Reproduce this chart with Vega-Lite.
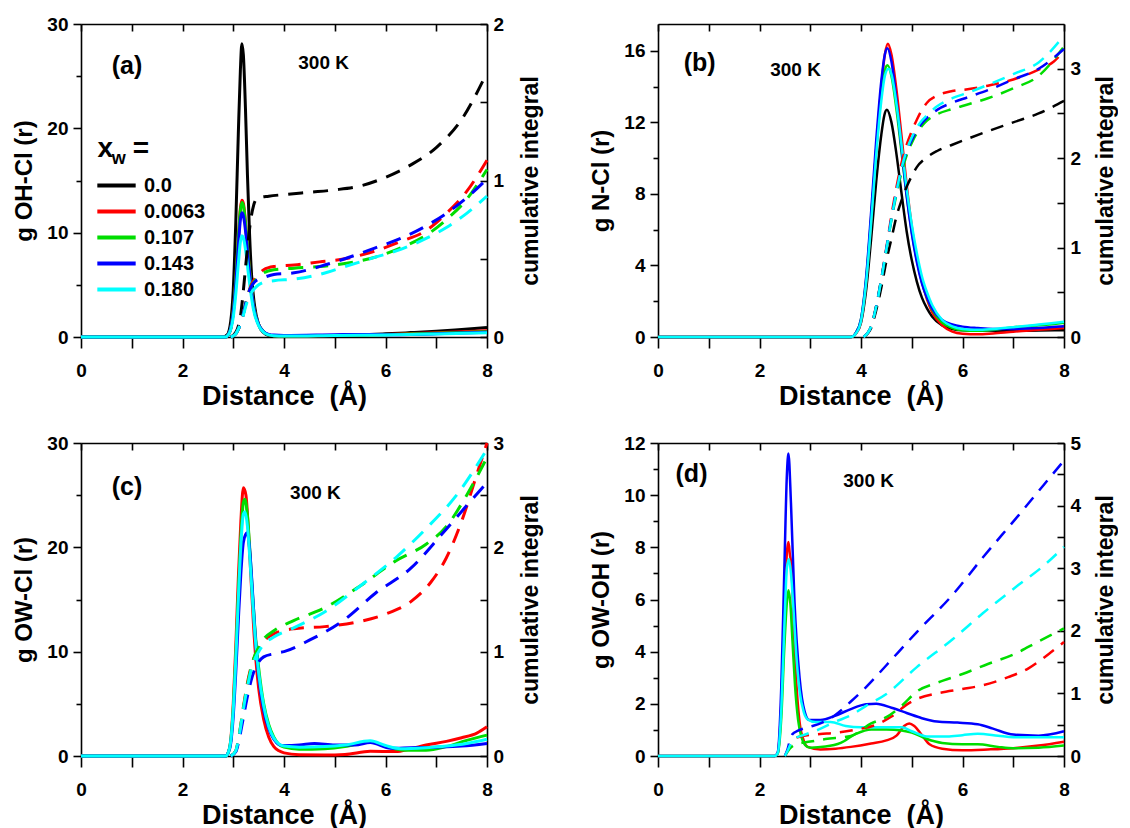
{
"$schema": "https://vega.github.io/schema/vega-lite/v6.json",
"padding": {"left": 12, "top": 15, "right": 0, "bottom": 0},
"background": "white",
"datasets": {
"aG": [
{"s":"0.0","r":0,"v":0},{"s":"0.0","r":2.8,"v":0},{"s":"0.0","r":2.88,"v":0.2},{"s":"0.0","r":2.95,"v":1.5},{"s":"0.0","r":3.0,"v":4.5},{"s":"0.0","r":3.05,"v":11},{"s":"0.0","r":3.1,"v":19.5},{"s":"0.0","r":3.14,"v":25.5},{"s":"0.0","r":3.17,"v":28.1},{"s":"0.0","r":3.2,"v":27},{"s":"0.0","r":3.24,"v":22},{"s":"0.0","r":3.28,"v":15.5},{"s":"0.0","r":3.32,"v":10},{"s":"0.0","r":3.36,"v":6},{"s":"0.0","r":3.42,"v":3},{"s":"0.0","r":3.5,"v":1.2},{"s":"0.0","r":3.6,"v":0.4},{"s":"0.0","r":3.7,"v":0.15},{"s":"0.0","r":3.8,"v":0.1},{"s":"0.0","r":4.0,"v":0.1},{"s":"0.0","r":4.5,"v":0.12},{"s":"0.0","r":5.0,"v":0.15},{"s":"0.0","r":5.5,"v":0.2},{"s":"0.0","r":6.0,"v":0.3},{"s":"0.0","r":6.5,"v":0.42},{"s":"0.0","r":7.0,"v":0.55},{"s":"0.0","r":7.5,"v":0.72},{"s":"0.0","r":8.0,"v":0.9},
{"s":"0.0063","r":0,"v":0},{"s":"0.0063","r":2.85,"v":0},{"s":"0.0063","r":2.9,"v":0.2},{"s":"0.0063","r":2.95,"v":0.8},{"s":"0.0063","r":3.0,"v":2.5},{"s":"0.0063","r":3.05,"v":5.5},{"s":"0.0063","r":3.1,"v":9.5},{"s":"0.0063","r":3.14,"v":12.3},{"s":"0.0063","r":3.17,"v":13.1},{"s":"0.0063","r":3.2,"v":12.8},{"s":"0.0063","r":3.25,"v":10.5},{"s":"0.0063","r":3.3,"v":7.5},{"s":"0.0063","r":3.35,"v":5},{"s":"0.0063","r":3.4,"v":3},{"s":"0.0063","r":3.5,"v":1.2},{"s":"0.0063","r":3.6,"v":0.5},{"s":"0.0063","r":3.7,"v":0.2},{"s":"0.0063","r":3.8,"v":0.12},{"s":"0.0063","r":4.0,"v":0.1},{"s":"0.0063","r":5.0,"v":0.15},{"s":"0.0063","r":6.0,"v":0.25},{"s":"0.0063","r":7.0,"v":0.4},{"s":"0.0063","r":8.0,"v":0.6},
{"s":"0.107","r":0,"v":0},{"s":"0.107","r":2.85,"v":0},{"s":"0.107","r":2.9,"v":0.2},{"s":"0.107","r":2.95,"v":0.8},{"s":"0.107","r":3.0,"v":2.4},{"s":"0.107","r":3.05,"v":5.4},{"s":"0.107","r":3.1,"v":9.4},{"s":"0.107","r":3.14,"v":12.1},{"s":"0.107","r":3.17,"v":12.9},{"s":"0.107","r":3.2,"v":12.6},{"s":"0.107","r":3.25,"v":10.4},{"s":"0.107","r":3.3,"v":7.5},{"s":"0.107","r":3.35,"v":5},{"s":"0.107","r":3.4,"v":3},{"s":"0.107","r":3.5,"v":1.2},{"s":"0.107","r":3.6,"v":0.5},{"s":"0.107","r":3.7,"v":0.2},{"s":"0.107","r":3.8,"v":0.12},{"s":"0.107","r":4.0,"v":0.1},{"s":"0.107","r":5.0,"v":0.15},{"s":"0.107","r":6.0,"v":0.22},{"s":"0.107","r":7.0,"v":0.35},{"s":"0.107","r":8.0,"v":0.5},
{"s":"0.143","r":0,"v":0},{"s":"0.143","r":2.85,"v":0},{"s":"0.143","r":2.9,"v":0.2},{"s":"0.143","r":2.95,"v":0.8},{"s":"0.143","r":3.0,"v":2.3},{"s":"0.143","r":3.05,"v":5.0},{"s":"0.143","r":3.1,"v":8.7},{"s":"0.143","r":3.14,"v":11.2},{"s":"0.143","r":3.17,"v":11.9},{"s":"0.143","r":3.2,"v":11.6},{"s":"0.143","r":3.25,"v":9.8},{"s":"0.143","r":3.3,"v":7.1},{"s":"0.143","r":3.35,"v":4.8},{"s":"0.143","r":3.4,"v":2.9},{"s":"0.143","r":3.5,"v":1.2},{"s":"0.143","r":3.6,"v":0.5},{"s":"0.143","r":3.7,"v":0.25},{"s":"0.143","r":3.8,"v":0.18},{"s":"0.143","r":4.0,"v":0.15},{"s":"0.143","r":5.0,"v":0.22},{"s":"0.143","r":5.5,"v":0.25},{"s":"0.143","r":6.0,"v":0.22},{"s":"0.143","r":7.0,"v":0.3},{"s":"0.143","r":8.0,"v":0.45},
{"s":"0.180","r":0,"v":0},{"s":"0.180","r":2.85,"v":0},{"s":"0.180","r":2.9,"v":0.2},{"s":"0.180","r":2.95,"v":0.7},{"s":"0.180","r":3.0,"v":1.9},{"s":"0.180","r":3.05,"v":4.1},{"s":"0.180","r":3.1,"v":7.0},{"s":"0.180","r":3.14,"v":9.1},{"s":"0.180","r":3.17,"v":9.7},{"s":"0.180","r":3.2,"v":9.5},{"s":"0.180","r":3.25,"v":8.1},{"s":"0.180","r":3.3,"v":6.0},{"s":"0.180","r":3.35,"v":4.1},{"s":"0.180","r":3.4,"v":2.6},{"s":"0.180","r":3.5,"v":1.1},{"s":"0.180","r":3.6,"v":0.45},{"s":"0.180","r":3.7,"v":0.2},{"s":"0.180","r":3.8,"v":0.12},{"s":"0.180","r":4.0,"v":0.1},{"s":"0.180","r":5.0,"v":0.15},{"s":"0.180","r":6.0,"v":0.2},{"s":"0.180","r":7.0,"v":0.28},{"s":"0.180","r":8.0,"v":0.4}
],
"aN": [
{"s":"0.0","r":2.95,"v":0},{"s":"0.0","r":3.05,"v":0.03},{"s":"0.0","r":3.1,"v":0.07},{"s":"0.0","r":3.15,"v":0.15},{"s":"0.0","r":3.2,"v":0.3},{"s":"0.0","r":3.25,"v":0.47},{"s":"0.0","r":3.3,"v":0.63},{"s":"0.0","r":3.35,"v":0.76},{"s":"0.0","r":3.4,"v":0.84},{"s":"0.0","r":3.45,"v":0.88},{"s":"0.0","r":3.5,"v":0.89},{"s":"0.0","r":3.7,"v":0.9},{"s":"0.0","r":4.0,"v":0.91},{"s":"0.0","r":4.5,"v":0.925},{"s":"0.0","r":5.0,"v":0.94},{"s":"0.0","r":5.5,"v":0.965},{"s":"0.0","r":6.0,"v":1.02},{"s":"0.0","r":6.5,"v":1.1},{"s":"0.0","r":7.0,"v":1.21},{"s":"0.0","r":7.5,"v":1.39},{"s":"0.0","r":8.0,"v":1.69},
{"s":"0.0063","r":2.95,"v":0},{"s":"0.0063","r":3.05,"v":0.02},{"s":"0.0063","r":3.1,"v":0.05},{"s":"0.0063","r":3.15,"v":0.09},{"s":"0.0063","r":3.2,"v":0.15},{"s":"0.0063","r":3.25,"v":0.22},{"s":"0.0063","r":3.3,"v":0.28},{"s":"0.0063","r":3.35,"v":0.33},{"s":"0.0063","r":3.4,"v":0.36},{"s":"0.0063","r":3.5,"v":0.4},{"s":"0.0063","r":3.6,"v":0.43},{"s":"0.0063","r":3.8,"v":0.45},{"s":"0.0063","r":4.2,"v":0.46},{"s":"0.0063","r":4.7,"v":0.48},{"s":"0.0063","r":5.2,"v":0.5},{"s":"0.0063","r":5.8,"v":0.55},{"s":"0.0063","r":6.3,"v":0.61},{"s":"0.0063","r":6.8,"v":0.68},{"s":"0.0063","r":7.2,"v":0.79},{"s":"0.0063","r":7.6,"v":0.93},{"s":"0.0063","r":8.0,"v":1.13},
{"s":"0.107","r":2.95,"v":0},{"s":"0.107","r":3.05,"v":0.02},{"s":"0.107","r":3.1,"v":0.05},{"s":"0.107","r":3.15,"v":0.09},{"s":"0.107","r":3.2,"v":0.15},{"s":"0.107","r":3.25,"v":0.22},{"s":"0.107","r":3.3,"v":0.28},{"s":"0.107","r":3.35,"v":0.32},{"s":"0.107","r":3.45,"v":0.37},{"s":"0.107","r":3.6,"v":0.41},{"s":"0.107","r":3.8,"v":0.43},{"s":"0.107","r":4.2,"v":0.44},{"s":"0.107","r":4.7,"v":0.45},{"s":"0.107","r":5.2,"v":0.47},{"s":"0.107","r":5.8,"v":0.51},{"s":"0.107","r":6.3,"v":0.57},{"s":"0.107","r":6.8,"v":0.65},{"s":"0.107","r":7.2,"v":0.75},{"s":"0.107","r":7.6,"v":0.88},{"s":"0.107","r":8.0,"v":1.07},
{"s":"0.143","r":2.95,"v":0},{"s":"0.143","r":3.05,"v":0.02},{"s":"0.143","r":3.1,"v":0.05},{"s":"0.143","r":3.15,"v":0.09},{"s":"0.143","r":3.2,"v":0.15},{"s":"0.143","r":3.25,"v":0.22},{"s":"0.143","r":3.3,"v":0.28},{"s":"0.143","r":3.35,"v":0.32},{"s":"0.143","r":3.45,"v":0.36},{"s":"0.143","r":3.6,"v":0.38},{"s":"0.143","r":3.8,"v":0.4},{"s":"0.143","r":4.2,"v":0.41},{"s":"0.143","r":4.7,"v":0.45},{"s":"0.143","r":5.2,"v":0.5},{"s":"0.143","r":5.8,"v":0.57},{"s":"0.143","r":6.3,"v":0.63},{"s":"0.143","r":6.8,"v":0.71},{"s":"0.143","r":7.2,"v":0.79},{"s":"0.143","r":7.6,"v":0.89},{"s":"0.143","r":8.0,"v":1.01},
{"s":"0.180","r":2.95,"v":0},{"s":"0.180","r":3.05,"v":0.02},{"s":"0.180","r":3.1,"v":0.05},{"s":"0.180","r":3.15,"v":0.09},{"s":"0.180","r":3.2,"v":0.14},{"s":"0.180","r":3.25,"v":0.2},{"s":"0.180","r":3.3,"v":0.25},{"s":"0.180","r":3.35,"v":0.28},{"s":"0.180","r":3.45,"v":0.32},{"s":"0.180","r":3.6,"v":0.35},{"s":"0.180","r":3.8,"v":0.36},{"s":"0.180","r":4.2,"v":0.37},{"s":"0.180","r":4.7,"v":0.4},{"s":"0.180","r":5.2,"v":0.45},{"s":"0.180","r":5.8,"v":0.51},{"s":"0.180","r":6.3,"v":0.56},{"s":"0.180","r":6.8,"v":0.63},{"s":"0.180","r":7.2,"v":0.7},{"s":"0.180","r":7.6,"v":0.79},{"s":"0.180","r":8.0,"v":0.9}
],
"bG": [
{"s":"0.0","r":0,"v":0},{"s":"0.0","r":3.8,"v":0},{"s":"0.0","r":3.9,"v":0.2},{"s":"0.0","r":4.0,"v":0.8},{"s":"0.0","r":4.1,"v":2.6},{"s":"0.0","r":4.2,"v":5.5},{"s":"0.0","r":4.3,"v":8.7},{"s":"0.0","r":4.4,"v":11.3},{"s":"0.0","r":4.46,"v":12.4},{"s":"0.0","r":4.51,"v":12.7},{"s":"0.0","r":4.6,"v":12.0},{"s":"0.0","r":4.7,"v":10.2},{"s":"0.0","r":4.8,"v":8.0},{"s":"0.0","r":4.9,"v":5.9},{"s":"0.0","r":5.0,"v":4.3},{"s":"0.0","r":5.1,"v":3.1},{"s":"0.0","r":5.2,"v":2.2},{"s":"0.0","r":5.3,"v":1.6},{"s":"0.0","r":5.4,"v":1.15},{"s":"0.0","r":5.6,"v":0.65},{"s":"0.0","r":5.8,"v":0.45},{"s":"0.0","r":6.0,"v":0.38},{"s":"0.0","r":6.5,"v":0.36},{"s":"0.0","r":7.0,"v":0.35},{"s":"0.0","r":7.5,"v":0.36},{"s":"0.0","r":8.0,"v":0.38},
{"s":"0.0063","r":0,"v":0},{"s":"0.0063","r":3.8,"v":0},{"s":"0.0063","r":3.9,"v":0.2},{"s":"0.0063","r":4.0,"v":0.9},{"s":"0.0063","r":4.1,"v":3},{"s":"0.0063","r":4.2,"v":6.5},{"s":"0.0063","r":4.3,"v":10.5},{"s":"0.0063","r":4.4,"v":14},{"s":"0.0063","r":4.47,"v":15.8},{"s":"0.0063","r":4.53,"v":16.4},{"s":"0.0063","r":4.6,"v":15.8},{"s":"0.0063","r":4.7,"v":13.8},{"s":"0.0063","r":4.8,"v":11.2},{"s":"0.0063","r":4.9,"v":8.5},{"s":"0.0063","r":5.0,"v":6.2},{"s":"0.0063","r":5.1,"v":4.4},{"s":"0.0063","r":5.2,"v":3.1},{"s":"0.0063","r":5.3,"v":2.1},{"s":"0.0063","r":5.4,"v":1.4},{"s":"0.0063","r":5.6,"v":0.65},{"s":"0.0063","r":5.8,"v":0.3},{"s":"0.0063","r":6.0,"v":0.18},{"s":"0.0063","r":6.3,"v":0.15},{"s":"0.0063","r":6.6,"v":0.2},{"s":"0.0063","r":7.0,"v":0.3},{"s":"0.0063","r":7.5,"v":0.4},{"s":"0.0063","r":8.0,"v":0.5},
{"s":"0.107","r":0,"v":0},{"s":"0.107","r":3.8,"v":0},{"s":"0.107","r":3.9,"v":0.25},{"s":"0.107","r":4.0,"v":1.0},{"s":"0.107","r":4.1,"v":3.2},{"s":"0.107","r":4.2,"v":6.7},{"s":"0.107","r":4.3,"v":10.5},{"s":"0.107","r":4.4,"v":13.5},{"s":"0.107","r":4.47,"v":14.9},{"s":"0.107","r":4.52,"v":15.2},{"s":"0.107","r":4.6,"v":14.6},{"s":"0.107","r":4.7,"v":12.7},{"s":"0.107","r":4.8,"v":10.3},{"s":"0.107","r":4.9,"v":7.9},{"s":"0.107","r":5.0,"v":5.9},{"s":"0.107","r":5.1,"v":4.3},{"s":"0.107","r":5.2,"v":3.1},{"s":"0.107","r":5.3,"v":2.2},{"s":"0.107","r":5.4,"v":1.55},{"s":"0.107","r":5.6,"v":0.8},{"s":"0.107","r":5.8,"v":0.5},{"s":"0.107","r":6.0,"v":0.38},{"s":"0.107","r":6.3,"v":0.35},{"s":"0.107","r":6.6,"v":0.4},{"s":"0.107","r":7.0,"v":0.55},{"s":"0.107","r":7.5,"v":0.65},{"s":"0.107","r":8.0,"v":0.8},
{"s":"0.143","r":0,"v":0},{"s":"0.143","r":3.8,"v":0},{"s":"0.143","r":3.9,"v":0.25},{"s":"0.143","r":4.0,"v":1.0},{"s":"0.143","r":4.1,"v":3.3},{"s":"0.143","r":4.2,"v":7},{"s":"0.143","r":4.3,"v":11},{"s":"0.143","r":4.4,"v":14.3},{"s":"0.143","r":4.47,"v":15.8},{"s":"0.143","r":4.52,"v":16.15},{"s":"0.143","r":4.6,"v":15.4},{"s":"0.143","r":4.7,"v":13.2},{"s":"0.143","r":4.8,"v":10.5},{"s":"0.143","r":4.9,"v":7.9},{"s":"0.143","r":5.0,"v":5.8},{"s":"0.143","r":5.1,"v":4.2},{"s":"0.143","r":5.2,"v":3.0},{"s":"0.143","r":5.3,"v":2.2},{"s":"0.143","r":5.4,"v":1.6},{"s":"0.143","r":5.6,"v":0.95},{"s":"0.143","r":5.8,"v":0.7},{"s":"0.143","r":6.0,"v":0.58},{"s":"0.143","r":6.3,"v":0.5},{"s":"0.143","r":6.6,"v":0.45},{"s":"0.143","r":7.0,"v":0.45},{"s":"0.143","r":7.5,"v":0.5},{"s":"0.143","r":8.0,"v":0.6},
{"s":"0.180","r":0,"v":0},{"s":"0.180","r":3.8,"v":0},{"s":"0.180","r":3.9,"v":0.2},{"s":"0.180","r":4.0,"v":0.9},{"s":"0.180","r":4.1,"v":3.0},{"s":"0.180","r":4.2,"v":6.4},{"s":"0.180","r":4.3,"v":10.2},{"s":"0.180","r":4.4,"v":13.2},{"s":"0.180","r":4.47,"v":14.6},{"s":"0.180","r":4.54,"v":15.0},{"s":"0.180","r":4.6,"v":14.7},{"s":"0.180","r":4.7,"v":13.0},{"s":"0.180","r":4.8,"v":10.7},{"s":"0.180","r":4.9,"v":8.3},{"s":"0.180","r":5.0,"v":6.3},{"s":"0.180","r":5.1,"v":4.7},{"s":"0.180","r":5.2,"v":3.4},{"s":"0.180","r":5.3,"v":2.5},{"s":"0.180","r":5.4,"v":1.8},{"s":"0.180","r":5.6,"v":0.95},{"s":"0.180","r":5.8,"v":0.6},{"s":"0.180","r":6.0,"v":0.45},{"s":"0.180","r":6.3,"v":0.4},{"s":"0.180","r":6.6,"v":0.45},{"s":"0.180","r":7.0,"v":0.55},{"s":"0.180","r":7.5,"v":0.7},{"s":"0.180","r":8.0,"v":0.85}
],
"bN": [
{"s":"0.0","r":4.05,"v":0},{"s":"0.0","r":4.2,"v":0.1},{"s":"0.0","r":4.3,"v":0.3},{"s":"0.0","r":4.4,"v":0.55},{"s":"0.0","r":4.5,"v":0.85},{"s":"0.0","r":4.6,"v":1.1},{"s":"0.0","r":4.7,"v":1.35},{"s":"0.0","r":4.8,"v":1.53},{"s":"0.0","r":4.9,"v":1.68},{"s":"0.0","r":5.0,"v":1.8},{"s":"0.0","r":5.1,"v":1.9},{"s":"0.0","r":5.3,"v":2.01},{"s":"0.0","r":5.5,"v":2.08},{"s":"0.0","r":5.8,"v":2.15},{"s":"0.0","r":6.4,"v":2.28},{"s":"0.0","r":7.0,"v":2.4},{"s":"0.0","r":7.5,"v":2.5},{"s":"0.0","r":8.0,"v":2.64},
{"s":"0.0063","r":4.05,"v":0},{"s":"0.0063","r":4.2,"v":0.12},{"s":"0.0063","r":4.3,"v":0.35},{"s":"0.0063","r":4.4,"v":0.65},{"s":"0.0063","r":4.5,"v":1.0},{"s":"0.0063","r":4.6,"v":1.36},{"s":"0.0063","r":4.7,"v":1.68},{"s":"0.0063","r":4.8,"v":1.95},{"s":"0.0063","r":4.9,"v":2.15},{"s":"0.0063","r":5.0,"v":2.3},{"s":"0.0063","r":5.1,"v":2.43},{"s":"0.0063","r":5.2,"v":2.54},{"s":"0.0063","r":5.3,"v":2.62},{"s":"0.0063","r":5.5,"v":2.7},{"s":"0.0063","r":5.8,"v":2.75},{"s":"0.0063","r":6.1,"v":2.77},{"s":"0.0063","r":6.5,"v":2.81},{"s":"0.0063","r":7.0,"v":2.88},{"s":"0.0063","r":7.5,"v":2.99},{"s":"0.0063","r":7.8,"v":3.08},{"s":"0.0063","r":8.0,"v":3.2},
{"s":"0.107","r":4.05,"v":0},{"s":"0.107","r":4.2,"v":0.12},{"s":"0.107","r":4.3,"v":0.35},{"s":"0.107","r":4.4,"v":0.65},{"s":"0.107","r":4.5,"v":0.98},{"s":"0.107","r":4.6,"v":1.31},{"s":"0.107","r":4.7,"v":1.6},{"s":"0.107","r":4.8,"v":1.84},{"s":"0.107","r":4.9,"v":2.03},{"s":"0.107","r":5.0,"v":2.17},{"s":"0.107","r":5.1,"v":2.28},{"s":"0.107","r":5.2,"v":2.36},{"s":"0.107","r":5.3,"v":2.42},{"s":"0.107","r":5.5,"v":2.49},{"s":"0.107","r":5.8,"v":2.55},{"s":"0.107","r":6.1,"v":2.6},{"s":"0.107","r":6.5,"v":2.67},{"s":"0.107","r":7.0,"v":2.78},{"s":"0.107","r":7.5,"v":2.92},{"s":"0.107","r":8.0,"v":3.25},
{"s":"0.143","r":4.05,"v":0},{"s":"0.143","r":4.2,"v":0.12},{"s":"0.143","r":4.3,"v":0.35},{"s":"0.143","r":4.4,"v":0.65},{"s":"0.143","r":4.5,"v":0.99},{"s":"0.143","r":4.6,"v":1.33},{"s":"0.143","r":4.7,"v":1.63},{"s":"0.143","r":4.8,"v":1.88},{"s":"0.143","r":4.9,"v":2.07},{"s":"0.143","r":5.0,"v":2.2},{"s":"0.143","r":5.1,"v":2.31},{"s":"0.143","r":5.2,"v":2.39},{"s":"0.143","r":5.3,"v":2.45},{"s":"0.143","r":5.5,"v":2.54},{"s":"0.143","r":5.8,"v":2.62},{"s":"0.143","r":6.1,"v":2.68},{"s":"0.143","r":6.5,"v":2.76},{"s":"0.143","r":7.0,"v":2.88},{"s":"0.143","r":7.5,"v":3.0},{"s":"0.143","r":8.0,"v":3.22},
{"s":"0.180","r":4.05,"v":0},{"s":"0.180","r":4.2,"v":0.12},{"s":"0.180","r":4.3,"v":0.34},{"s":"0.180","r":4.4,"v":0.64},{"s":"0.180","r":4.5,"v":0.98},{"s":"0.180","r":4.6,"v":1.32},{"s":"0.180","r":4.7,"v":1.63},{"s":"0.180","r":4.8,"v":1.89},{"s":"0.180","r":4.9,"v":2.09},{"s":"0.180","r":5.0,"v":2.23},{"s":"0.180","r":5.1,"v":2.34},{"s":"0.180","r":5.2,"v":2.42},{"s":"0.180","r":5.3,"v":2.48},{"s":"0.180","r":5.5,"v":2.58},{"s":"0.180","r":5.8,"v":2.67},{"s":"0.180","r":6.1,"v":2.73},{"s":"0.180","r":6.5,"v":2.82},{"s":"0.180","r":7.0,"v":2.94},{"s":"0.180","r":7.5,"v":3.07},{"s":"0.180","r":8.0,"v":3.37}
],
"cG": [
{"s":"0.0063","r":0,"v":0},{"s":"0.0063","r":2.85,"v":0},{"s":"0.0063","r":2.9,"v":0.3},{"s":"0.0063","r":2.95,"v":1.5},{"s":"0.0063","r":3.0,"v":5},{"s":"0.0063","r":3.05,"v":10.5},{"s":"0.0063","r":3.1,"v":17},{"s":"0.0063","r":3.15,"v":22.5},{"s":"0.0063","r":3.2,"v":25.7},{"s":"0.0063","r":3.25,"v":25},{"s":"0.0063","r":3.3,"v":21.5},{"s":"0.0063","r":3.35,"v":17},{"s":"0.0063","r":3.4,"v":12.5},{"s":"0.0063","r":3.45,"v":9},{"s":"0.0063","r":3.5,"v":6.5},{"s":"0.0063","r":3.6,"v":3.5},{"s":"0.0063","r":3.7,"v":1.8},{"s":"0.0063","r":3.8,"v":0.9},{"s":"0.0063","r":3.9,"v":0.5},{"s":"0.0063","r":4.0,"v":0.3},{"s":"0.0063","r":4.3,"v":0.12},{"s":"0.0063","r":4.8,"v":0.1},{"s":"0.0063","r":5.2,"v":0.15},{"s":"0.0063","r":5.7,"v":0.45},{"s":"0.0063","r":6.2,"v":0.42},{"s":"0.0063","r":6.5,"v":0.7},{"s":"0.0063","r":6.8,"v":1.05},{"s":"0.0063","r":7.2,"v":1.4},{"s":"0.0063","r":7.5,"v":1.75},{"s":"0.0063","r":7.8,"v":2.2},{"s":"0.0063","r":8.0,"v":2.8},
{"s":"0.107","r":0,"v":0},{"s":"0.107","r":2.85,"v":0},{"s":"0.107","r":2.9,"v":0.3},{"s":"0.107","r":2.95,"v":1.4},{"s":"0.107","r":3.0,"v":4.5},{"s":"0.107","r":3.05,"v":9.5},{"s":"0.107","r":3.1,"v":15.5},{"s":"0.107","r":3.15,"v":21},{"s":"0.107","r":3.2,"v":24.3},{"s":"0.107","r":3.23,"v":24.6},{"s":"0.107","r":3.28,"v":23},{"s":"0.107","r":3.33,"v":19.5},{"s":"0.107","r":3.38,"v":15.5},{"s":"0.107","r":3.43,"v":12},{"s":"0.107","r":3.5,"v":8.5},{"s":"0.107","r":3.6,"v":5},{"s":"0.107","r":3.7,"v":3},{"s":"0.107","r":3.8,"v":1.8},{"s":"0.107","r":3.9,"v":1.1},{"s":"0.107","r":4.0,"v":0.85},{"s":"0.107","r":4.3,"v":0.65},{"s":"0.107","r":4.8,"v":0.7},{"s":"0.107","r":5.2,"v":0.9},{"s":"0.107","r":5.7,"v":1.4},{"s":"0.107","r":6.0,"v":0.9},{"s":"0.107","r":6.4,"v":0.55},{"s":"0.107","r":6.8,"v":0.55},{"s":"0.107","r":7.2,"v":0.9},{"s":"0.107","r":7.6,"v":1.5},{"s":"0.107","r":8.0,"v":2.0},
{"s":"0.143","r":0,"v":0},{"s":"0.143","r":2.85,"v":0},{"s":"0.143","r":2.9,"v":0.3},{"s":"0.143","r":2.95,"v":1.2},{"s":"0.143","r":3.0,"v":3.8},{"s":"0.143","r":3.05,"v":8},{"s":"0.143","r":3.1,"v":13},{"s":"0.143","r":3.15,"v":17.5},{"s":"0.143","r":3.2,"v":20.5},{"s":"0.143","r":3.27,"v":21.4},{"s":"0.143","r":3.32,"v":20},{"s":"0.143","r":3.37,"v":16.5},{"s":"0.143","r":3.42,"v":12.5},{"s":"0.143","r":3.47,"v":9.2},{"s":"0.143","r":3.53,"v":6.5},{"s":"0.143","r":3.6,"v":4.4},{"s":"0.143","r":3.7,"v":2.6},{"s":"0.143","r":3.8,"v":1.6},{"s":"0.143","r":3.9,"v":1.1},{"s":"0.143","r":4.0,"v":1.0},{"s":"0.143","r":4.3,"v":1.05},{"s":"0.143","r":4.6,"v":1.2},{"s":"0.143","r":5.0,"v":1.05},{"s":"0.143","r":5.4,"v":1.05},{"s":"0.143","r":5.7,"v":1.3},{"s":"0.143","r":6.1,"v":0.75},{"s":"0.143","r":6.5,"v":0.8},{"s":"0.143","r":7.0,"v":0.85},{"s":"0.143","r":7.5,"v":0.95},{"s":"0.143","r":8.0,"v":1.2},
{"s":"0.180","r":0,"v":0},{"s":"0.180","r":2.85,"v":0},{"s":"0.180","r":2.9,"v":0.3},{"s":"0.180","r":2.95,"v":1.4},{"s":"0.180","r":3.0,"v":4.4},{"s":"0.180","r":3.05,"v":9.2},{"s":"0.180","r":3.1,"v":15},{"s":"0.180","r":3.15,"v":20.2},{"s":"0.180","r":3.2,"v":23.2},{"s":"0.180","r":3.23,"v":23.4},{"s":"0.180","r":3.28,"v":22},{"s":"0.180","r":3.33,"v":18.7},{"s":"0.180","r":3.38,"v":15},{"s":"0.180","r":3.43,"v":11.5},{"s":"0.180","r":3.5,"v":8},{"s":"0.180","r":3.6,"v":4.8},{"s":"0.180","r":3.7,"v":2.8},{"s":"0.180","r":3.8,"v":1.7},{"s":"0.180","r":3.9,"v":1.15},{"s":"0.180","r":4.0,"v":0.95},{"s":"0.180","r":4.3,"v":0.85},{"s":"0.180","r":4.8,"v":0.9},{"s":"0.180","r":5.2,"v":1.05},{"s":"0.180","r":5.7,"v":1.45},{"s":"0.180","r":6.0,"v":1.0},{"s":"0.180","r":6.3,"v":0.7},{"s":"0.180","r":6.8,"v":0.8},{"s":"0.180","r":7.2,"v":0.95},{"s":"0.180","r":7.6,"v":1.2},{"s":"0.180","r":8.0,"v":1.6}
],
"cN": [
{"s":"0.0063","r":2.95,"v":0},{"s":"0.0063","r":3.05,"v":0.05},{"s":"0.0063","r":3.1,"v":0.15},{"s":"0.0063","r":3.15,"v":0.3},{"s":"0.0063","r":3.2,"v":0.47},{"s":"0.0063","r":3.25,"v":0.62},{"s":"0.0063","r":3.3,"v":0.75},{"s":"0.0063","r":3.35,"v":0.85},{"s":"0.0063","r":3.4,"v":0.93},{"s":"0.0063","r":3.5,"v":1.03},{"s":"0.0063","r":3.6,"v":1.1},{"s":"0.0063","r":3.8,"v":1.17},{"s":"0.0063","r":4.2,"v":1.22},{"s":"0.0063","r":4.8,"v":1.24},{"s":"0.0063","r":5.5,"v":1.29},{"s":"0.0063","r":6.0,"v":1.36},{"s":"0.0063","r":6.5,"v":1.48},{"s":"0.0063","r":6.9,"v":1.67},{"s":"0.0063","r":7.2,"v":1.9},{"s":"0.0063","r":7.5,"v":2.25},{"s":"0.0063","r":7.8,"v":2.7},{"s":"0.0063","r":8.0,"v":3.0},
{"s":"0.107","r":2.95,"v":0},{"s":"0.107","r":3.05,"v":0.05},{"s":"0.107","r":3.1,"v":0.15},{"s":"0.107","r":3.15,"v":0.3},{"s":"0.107","r":3.2,"v":0.46},{"s":"0.107","r":3.25,"v":0.6},{"s":"0.107","r":3.3,"v":0.73},{"s":"0.107","r":3.35,"v":0.84},{"s":"0.107","r":3.4,"v":0.93},{"s":"0.107","r":3.5,"v":1.04},{"s":"0.107","r":3.6,"v":1.12},{"s":"0.107","r":3.8,"v":1.2},{"s":"0.107","r":4.2,"v":1.3},{"s":"0.107","r":4.8,"v":1.42},{"s":"0.107","r":5.5,"v":1.63},{"s":"0.107","r":6.2,"v":1.87},{"s":"0.107","r":6.8,"v":2.03},{"s":"0.107","r":7.2,"v":2.2},{"s":"0.107","r":7.6,"v":2.5},{"s":"0.107","r":8.0,"v":2.86},
{"s":"0.143","r":2.95,"v":0},{"s":"0.143","r":3.05,"v":0.04},{"s":"0.143","r":3.1,"v":0.12},{"s":"0.143","r":3.15,"v":0.24},{"s":"0.143","r":3.2,"v":0.37},{"s":"0.143","r":3.25,"v":0.5},{"s":"0.143","r":3.3,"v":0.62},{"s":"0.143","r":3.35,"v":0.72},{"s":"0.143","r":3.4,"v":0.8},{"s":"0.143","r":3.5,"v":0.9},{"s":"0.143","r":3.6,"v":0.95},{"s":"0.143","r":3.8,"v":0.98},{"s":"0.143","r":4.0,"v":1.0},{"s":"0.143","r":4.5,"v":1.11},{"s":"0.143","r":5.2,"v":1.31},{"s":"0.143","r":5.8,"v":1.56},{"s":"0.143","r":6.5,"v":1.8},{"s":"0.143","r":7.1,"v":2.12},{"s":"0.143","r":7.6,"v":2.4},{"s":"0.143","r":8.0,"v":2.62},
{"s":"0.180","r":2.95,"v":0},{"s":"0.180","r":3.05,"v":0.05},{"s":"0.180","r":3.1,"v":0.15},{"s":"0.180","r":3.15,"v":0.29},{"s":"0.180","r":3.2,"v":0.45},{"s":"0.180","r":3.25,"v":0.59},{"s":"0.180","r":3.3,"v":0.71},{"s":"0.180","r":3.35,"v":0.82},{"s":"0.180","r":3.4,"v":0.9},{"s":"0.180","r":3.5,"v":1.0},{"s":"0.180","r":3.6,"v":1.07},{"s":"0.180","r":3.8,"v":1.14},{"s":"0.180","r":4.2,"v":1.23},{"s":"0.180","r":4.8,"v":1.38},{"s":"0.180","r":5.5,"v":1.63},{"s":"0.180","r":6.2,"v":1.9},{"s":"0.180","r":6.8,"v":2.18},{"s":"0.180","r":7.4,"v":2.5},{"s":"0.180","r":8.0,"v":2.94}
],
"dG": [
{"s":"0.0063","r":0,"v":0},{"s":"0.0063","r":2.3,"v":0},{"s":"0.0063","r":2.36,"v":0.12},{"s":"0.0063","r":2.43,"v":2.0},{"s":"0.0063","r":2.49,"v":5.4},{"s":"0.0063","r":2.54,"v":7.8},{"s":"0.0063","r":2.57,"v":8.2},{"s":"0.0063","r":2.6,"v":7.7},{"s":"0.0063","r":2.63,"v":7.3},{"s":"0.0063","r":2.67,"v":5.2},{"s":"0.0063","r":2.72,"v":3.0},{"s":"0.0063","r":2.79,"v":1.3},{"s":"0.0063","r":2.87,"v":0.6},{"s":"0.0063","r":2.95,"v":0.35},{"s":"0.0063","r":3.2,"v":0.25},{"s":"0.0063","r":3.5,"v":0.28},{"s":"0.0063","r":3.8,"v":0.35},{"s":"0.0063","r":4.2,"v":0.48},{"s":"0.0063","r":4.5,"v":0.6},{"s":"0.0063","r":4.7,"v":0.78},{"s":"0.0063","r":4.85,"v":1.15},{"s":"0.0063","r":4.95,"v":1.25},{"s":"0.0063","r":5.05,"v":1.15},{"s":"0.0063","r":5.2,"v":0.8},{"s":"0.0063","r":5.35,"v":0.45},{"s":"0.0063","r":5.6,"v":0.28},{"s":"0.0063","r":6.0,"v":0.22},{"s":"0.0063","r":6.5,"v":0.25},{"s":"0.0063","r":7.0,"v":0.3},{"s":"0.0063","r":7.5,"v":0.4},{"s":"0.0063","r":8.0,"v":0.55},
{"s":"0.107","r":0,"v":0},{"s":"0.107","r":2.3,"v":0},{"s":"0.107","r":2.36,"v":0.1},{"s":"0.107","r":2.43,"v":1.5},{"s":"0.107","r":2.49,"v":4.2},{"s":"0.107","r":2.54,"v":5.9},{"s":"0.107","r":2.57,"v":6.35},{"s":"0.107","r":2.61,"v":5.8},{"s":"0.107","r":2.65,"v":4.4},{"s":"0.107","r":2.7,"v":2.7},{"s":"0.107","r":2.76,"v":1.4},{"s":"0.107","r":2.83,"v":0.7},{"s":"0.107","r":2.9,"v":0.42},{"s":"0.107","r":3.0,"v":0.32},{"s":"0.107","r":3.3,"v":0.36},{"s":"0.107","r":3.6,"v":0.5},{"s":"0.107","r":3.9,"v":0.85},{"s":"0.107","r":4.2,"v":1.02},{"s":"0.107","r":4.5,"v":1.02},{"s":"0.107","r":4.8,"v":0.98},{"s":"0.107","r":5.0,"v":0.9},{"s":"0.107","r":5.3,"v":0.65},{"s":"0.107","r":5.6,"v":0.5},{"s":"0.107","r":6.0,"v":0.45},{"s":"0.107","r":6.3,"v":0.45},{"s":"0.107","r":6.7,"v":0.35},{"s":"0.107","r":7.0,"v":0.3},{"s":"0.107","r":7.5,"v":0.32},{"s":"0.107","r":8.0,"v":0.4},
{"s":"0.143","r":0,"v":0},{"s":"0.143","r":2.3,"v":0},{"s":"0.143","r":2.36,"v":0.15},{"s":"0.143","r":2.43,"v":2.7},{"s":"0.143","r":2.49,"v":7.2},{"s":"0.143","r":2.54,"v":10.8},{"s":"0.143","r":2.57,"v":11.6},{"s":"0.143","r":2.62,"v":9.7},{"s":"0.143","r":2.69,"v":5.9},{"s":"0.143","r":2.79,"v":3.0},{"s":"0.143","r":2.89,"v":1.7},{"s":"0.143","r":2.98,"v":1.38},{"s":"0.143","r":3.2,"v":1.38},{"s":"0.143","r":3.5,"v":1.55},{"s":"0.143","r":3.8,"v":1.8},{"s":"0.143","r":4.1,"v":1.98},{"s":"0.143","r":4.3,"v":2.0},{"s":"0.143","r":4.6,"v":1.85},{"s":"0.143","r":4.9,"v":1.65},{"s":"0.143","r":5.2,"v":1.45},{"s":"0.143","r":5.5,"v":1.32},{"s":"0.143","r":5.9,"v":1.28},{"s":"0.143","r":6.3,"v":1.22},{"s":"0.143","r":6.6,"v":1.05},{"s":"0.143","r":7.0,"v":0.82},{"s":"0.143","r":7.5,"v":0.78},{"s":"0.143","r":8.0,"v":0.95},
{"s":"0.180","r":0,"v":0},{"s":"0.180","r":2.3,"v":0},{"s":"0.180","r":2.36,"v":0.12},{"s":"0.180","r":2.43,"v":1.8},{"s":"0.180","r":2.49,"v":5.0},{"s":"0.180","r":2.54,"v":7.2},{"s":"0.180","r":2.58,"v":7.55},{"s":"0.180","r":2.62,"v":7.0},{"s":"0.180","r":2.67,"v":5.6},{"s":"0.180","r":2.72,"v":4.0},{"s":"0.180","r":2.79,"v":2.5},{"s":"0.180","r":2.87,"v":1.7},{"s":"0.180","r":2.95,"v":1.4},{"s":"0.180","r":3.1,"v":1.3},{"s":"0.180","r":3.4,"v":1.3},{"s":"0.180","r":3.7,"v":1.15},{"s":"0.180","r":4.0,"v":1.1},{"s":"0.180","r":4.5,"v":1.1},{"s":"0.180","r":4.8,"v":1.1},{"s":"0.180","r":5.0,"v":0.95},{"s":"0.180","r":5.3,"v":0.75},{"s":"0.180","r":5.7,"v":0.75},{"s":"0.180","r":6.0,"v":0.8},{"s":"0.180","r":6.3,"v":0.85},{"s":"0.180","r":6.7,"v":0.78},{"s":"0.180","r":7.0,"v":0.72},{"s":"0.180","r":8.0,"v":0.72}
],
"dN": [
{"s":"0.0063","r":2.5,"v":0},{"s":"0.0063","r":2.55,"v":0.08},{"s":"0.0063","r":2.6,"v":0.18},{"s":"0.0063","r":2.7,"v":0.28},{"s":"0.0063","r":2.85,"v":0.32},{"s":"0.0063","r":3.2,"v":0.35},{"s":"0.0063","r":3.5,"v":0.37},{"s":"0.0063","r":3.9,"v":0.42},{"s":"0.0063","r":4.3,"v":0.5},{"s":"0.0063","r":4.6,"v":0.63},{"s":"0.0063","r":4.9,"v":0.82},{"s":"0.0063","r":5.1,"v":0.91},{"s":"0.0063","r":5.5,"v":1.0},{"s":"0.0063","r":6.0,"v":1.07},{"s":"0.0063","r":6.4,"v":1.13},{"s":"0.0063","r":6.9,"v":1.26},{"s":"0.0063","r":7.3,"v":1.4},{"s":"0.0063","r":7.7,"v":1.63},{"s":"0.0063","r":8.0,"v":1.82},
{"s":"0.107","r":2.5,"v":0},{"s":"0.107","r":2.6,"v":0.12},{"s":"0.107","r":2.7,"v":0.18},{"s":"0.107","r":3.0,"v":0.23},{"s":"0.107","r":3.3,"v":0.27},{"s":"0.107","r":3.8,"v":0.32},{"s":"0.107","r":4.2,"v":0.52},{"s":"0.107","r":4.5,"v":0.62},{"s":"0.107","r":4.8,"v":0.8},{"s":"0.107","r":5.1,"v":1.03},{"s":"0.107","r":5.5,"v":1.17},{"s":"0.107","r":6.0,"v":1.31},{"s":"0.107","r":6.5,"v":1.47},{"s":"0.107","r":7.0,"v":1.62},{"s":"0.107","r":7.5,"v":1.83},{"s":"0.107","r":8.0,"v":2.04},
{"s":"0.143","r":2.5,"v":0},{"s":"0.143","r":2.55,"v":0.1},{"s":"0.143","r":2.6,"v":0.25},{"s":"0.143","r":2.65,"v":0.35},{"s":"0.143","r":2.75,"v":0.4},{"s":"0.143","r":3.0,"v":0.47},{"s":"0.143","r":3.2,"v":0.52},{"s":"0.143","r":3.5,"v":0.66},{"s":"0.143","r":3.8,"v":0.87},{"s":"0.143","r":4.1,"v":1.1},{"s":"0.143","r":4.5,"v":1.45},{"s":"0.143","r":5.1,"v":1.98},{"s":"0.143","r":5.8,"v":2.57},{"s":"0.143","r":6.4,"v":3.17},{"s":"0.143","r":7.1,"v":3.84},{"s":"0.143","r":7.6,"v":4.33},{"s":"0.143","r":8.0,"v":4.72},
{"s":"0.180","r":2.5,"v":0},{"s":"0.180","r":2.55,"v":0.08},{"s":"0.180","r":2.62,"v":0.2},{"s":"0.180","r":2.7,"v":0.28},{"s":"0.180","r":2.85,"v":0.33},{"s":"0.180","r":3.1,"v":0.4},{"s":"0.180","r":3.5,"v":0.55},{"s":"0.180","r":3.8,"v":0.65},{"s":"0.180","r":4.1,"v":0.8},{"s":"0.180","r":4.5,"v":0.99},{"s":"0.180","r":5.1,"v":1.42},{"s":"0.180","r":5.8,"v":1.86},{"s":"0.180","r":6.4,"v":2.28},{"s":"0.180","r":7.1,"v":2.73},{"s":"0.180","r":7.6,"v":3.04},{"s":"0.180","r":8.0,"v":3.34}
],
"notes": [
{"p":"a","k":"tag","x":0.906,"y":25.2,"t":"(a)"},
{"p":"a","k":"temp","x":4.78,"y":25.69,"t":"300 K"},
{"p":"a","k":"xw","x":0.479,"y":17.22,"t":"x"},
{"p":"a","k":"xw","x":1.18,"y":17.22,"t":"="},
{"p":"a","k":"sub","x":0.745,"y":16.58,"t":"w"},
{"p":"b","k":"tag","x":0.82,"y":14.89,"t":"(b)"},
{"p":"b","k":"temp","x":2.71,"y":14.6,"t":"300 K"},
{"p":"c","k":"tag","x":0.906,"y":25.0,"t":"(c)"},
{"p":"c","k":"temp","x":4.62,"y":24.6,"t":"300 K"},
{"p":"d","k":"tag","x":0.66,"y":10.52,"t":"(d)"},
{"p":"d","k":"temp","x":4.15,"y":10.3,"t":"300 K"}
]
},
"vconcat": [
{"hconcat": [
{"width": 406, "height": 313,
 "layer": [
  {"data": {"name": "aG"}, "mark": {"type": "line", "strokeWidth": 3, "interpolate": "monotone"},
   "encoding": {
    "x": {"field": "r", "type": "quantitative", "scale": {"domain": [0, 8], "nice": false}, "axis": {"orient": "bottom", "values": [0,1,2,3,4,5,6,7,8], "labelExpr": "datum.value % 2 == 0 ? datum.label : ''", "tickSize": 11, "labelPadding": 13, "title": "Distance\u00a0\u00a0(Å)", "titleFontSize": 27, "titlePadding": 3}},
    "y": {"field": "v", "type": "quantitative", "scale": {"domain": [0, 30], "nice": false}, "axis": {"orient": "left", "values": [0,5,10,15,20,25,30], "labelExpr": "datum.value % 10 == 0 ? datum.label : ''", "tickSize": {"condition": {"test": "datum.value % 10 == 0", "value": 8}, "value": 5}, "labelPadding": 5, "title": "g OH-Cl (r)", "titleFontSize": 24, "titlePadding": 10}},
    "color": {"field": "s", "type": "nominal", "sort": null, "scale": {"domain": ["0.0","0.0063","0.107","0.143","0.180"], "range": ["#000000","#ff0000","#00dd00","#0000ff","#00ffff"]},
      "legend": {"orient": "none", "legendX": 20, "legendY": 146, "title": null, "symbolType": "M-1.45,0H1.45", "symbolSize": 700, "symbolStrokeWidth": 4, "labelFontSize": 20, "labelFontWeight": "bold", "labelFont": "Liberation Sans", "labelColor": "black", "labelOffset": 12, "rowPadding": 0, "padding": 0}}
   }},
  {"data": {"name": "aN"}, "mark": {"type": "line", "strokeWidth": 3, "strokeDash": [15, 10], "interpolate": "monotone"},
   "encoding": {
    "x": {"field": "r", "type": "quantitative", "scale": {"domain": [0, 8], "nice": false}, "axis": {"orient": "top", "values": [0,1,2,3,4,5,6,7,8], "labels": false, "tickSize": -7, "title": null}},
    "y": {"field": "v", "type": "quantitative", "scale": {"domain": [0, 2], "nice": false}, "axis": {"orient": "right", "values": [0,0.5,1,1.5,2], "labelExpr": "datum.value % 1 == 0 ? format(datum.value, 'd') : ''", "tickSize": -7, "labelPadding": 13, "title": "cumulative integral", "titleFontSize": 23, "titleAngle": 270, "titleBaseline": "top", "titlePadding": 16}},
    "color": {"field": "s", "type": "nominal", "sort": null}
   }},
  {"data": {"name": "notes"}, "transform": [{"filter": "datum.p == 'a' && datum.k == 'tag'"}], "mark": {"type": "text", "fontSize": 25, "fontWeight": "bold", "align": "center", "baseline": "alphabetic", "color": "black"},
   "encoding": {"x": {"field": "x", "type": "quantitative", "scale": {"domain": [0, 8], "nice": false}, "axis": null}, "y": {"field": "y", "type": "quantitative", "scale": {"domain": [0, 30], "nice": false}, "axis": null}, "text": {"field": "t"}}},
  {"data": {"name": "notes"}, "transform": [{"filter": "datum.p == 'a' && datum.k == 'temp'"}], "mark": {"type": "text", "fontSize": 19, "fontWeight": "bold", "align": "center", "baseline": "alphabetic", "color": "black"},
   "encoding": {"x": {"field": "x", "type": "quantitative", "scale": {"domain": [0, 8], "nice": false}, "axis": null}, "y": {"field": "y", "type": "quantitative", "scale": {"domain": [0, 30], "nice": false}, "axis": null}, "text": {"field": "t"}}},
  {"data": {"name": "notes"}, "transform": [{"filter": "datum.p == 'a' && datum.k == 'xw'"}], "mark": {"type": "text", "fontSize": 28, "fontWeight": "bold", "align": "center", "baseline": "alphabetic", "color": "black"},
   "encoding": {"x": {"field": "x", "type": "quantitative", "scale": {"domain": [0, 8], "nice": false}, "axis": null}, "y": {"field": "y", "type": "quantitative", "scale": {"domain": [0, 30], "nice": false}, "axis": null}, "text": {"field": "t"}}},
  {"data": {"name": "notes"}, "transform": [{"filter": "datum.p == 'a' && datum.k == 'sub'"}], "mark": {"type": "text", "fontSize": 18, "fontWeight": "bold", "align": "center", "baseline": "alphabetic", "color": "black"},
   "encoding": {"x": {"field": "x", "type": "quantitative", "scale": {"domain": [0, 8], "nice": false}, "axis": null}, "y": {"field": "y", "type": "quantitative", "scale": {"domain": [0, 30], "nice": false}, "axis": null}, "text": {"field": "t"}}}
 ],
 "resolve": {"scale": {"x": "independent", "y": "independent"}}
},
{"width": 406, "height": 313,
 "layer": [
  {"data": {"name": "bG"}, "mark": {"type": "line", "strokeWidth": 2.5, "interpolate": "monotone"},
   "encoding": {
    "x": {"field": "r", "type": "quantitative", "scale": {"domain": [0, 8], "nice": false}, "axis": {"orient": "bottom", "values": [0,1,2,3,4,5,6,7,8], "labelExpr": "datum.value % 2 == 0 ? datum.label : ''", "tickSize": 11, "labelPadding": 13, "title": "Distance\u00a0\u00a0(Å)", "titleFontSize": 27, "titlePadding": 3}},
    "y": {"field": "v", "type": "quantitative", "scale": {"domain": [0, 17.5], "nice": false}, "axis": {"orient": "left", "values": [0,2,4,6,8,10,12,14,16], "labelExpr": "datum.value % 4 == 0 ? datum.label : ''", "tickSize": {"condition": {"test": "datum.value % 4 == 0", "value": 8}, "value": 5}, "labelPadding": 5, "title": "g N-Cl (r)", "titleFontSize": 24, "titlePadding": 10}},
    "color": {"field": "s", "type": "nominal", "sort": null, "scale": {"domain": ["0.0","0.0063","0.107","0.143","0.180"], "range": ["#000000","#ff0000","#00dd00","#0000ff","#00ffff"]}, "legend": null}
   }},
  {"data": {"name": "bN"}, "mark": {"type": "line", "strokeWidth": 2.5, "strokeDash": [13, 9], "interpolate": "monotone"},
   "encoding": {
    "x": {"field": "r", "type": "quantitative", "scale": {"domain": [0, 8], "nice": false}, "axis": {"orient": "top", "values": [0,1,2,3,4,5,6,7,8], "labels": false, "tickSize": -7, "title": null}},
    "y": {"field": "v", "type": "quantitative", "scale": {"domain": [0, 3.5], "nice": false}, "axis": {"orient": "right", "values": [0,0.5,1,1.5,2,2.5,3], "labelExpr": "datum.value % 1 == 0 ? format(datum.value, 'd') : ''", "tickSize": -7, "labelPadding": 13, "title": "cumulative integral", "titleFontSize": 23, "titleAngle": 270, "titleBaseline": "top", "titlePadding": 14}},
    "color": {"field": "s", "type": "nominal", "sort": null, "legend": null}
   }},
  {"data": {"name": "notes"}, "transform": [{"filter": "datum.p == 'b' && datum.k == 'tag'"}], "mark": {"type": "text", "fontSize": 25, "fontWeight": "bold", "align": "center", "baseline": "alphabetic", "color": "black"},
   "encoding": {"x": {"field": "x", "type": "quantitative", "scale": {"domain": [0, 8], "nice": false}, "axis": null}, "y": {"field": "y", "type": "quantitative", "scale": {"domain": [0, 17.5], "nice": false}, "axis": null}, "text": {"field": "t"}}},
  {"data": {"name": "notes"}, "transform": [{"filter": "datum.p == 'b' && datum.k == 'temp'"}], "mark": {"type": "text", "fontSize": 19, "fontWeight": "bold", "align": "center", "baseline": "alphabetic", "color": "black"},
   "encoding": {"x": {"field": "x", "type": "quantitative", "scale": {"domain": [0, 8], "nice": false}, "axis": null}, "y": {"field": "y", "type": "quantitative", "scale": {"domain": [0, 17.5], "nice": false}, "axis": null}, "text": {"field": "t"}}}
 ],
 "resolve": {"scale": {"x": "independent", "y": "independent"}}
}
], "spacing": 46, "resolve": {"scale": {"color": "independent"}}},
{"hconcat": [
{"width": 406, "height": 313,
 "layer": [
  {"data": {"name": "cG"}, "mark": {"type": "line", "strokeWidth": 3, "interpolate": "monotone"},
   "encoding": {
    "x": {"field": "r", "type": "quantitative", "scale": {"domain": [0, 8], "nice": false}, "axis": {"orient": "bottom", "values": [0,1,2,3,4,5,6,7,8], "labelExpr": "datum.value % 2 == 0 ? datum.label : ''", "tickSize": 11, "labelPadding": 13, "title": "Distance\u00a0\u00a0(Å)", "titleFontSize": 27, "titlePadding": 3}},
    "y": {"field": "v", "type": "quantitative", "scale": {"domain": [0, 30], "nice": false}, "axis": {"orient": "left", "values": [0,5,10,15,20,25,30], "labelExpr": "datum.value % 10 == 0 ? datum.label : ''", "tickSize": {"condition": {"test": "datum.value % 10 == 0", "value": 8}, "value": 5}, "labelPadding": 5, "title": "g OW-Cl (r)", "titleFontSize": 24, "titlePadding": 10}},
    "color": {"field": "s", "type": "nominal", "sort": null, "scale": {"domain": ["0.0","0.0063","0.107","0.143","0.180"], "range": ["#000000","#ff0000","#00dd00","#0000ff","#00ffff"]}, "legend": null}
   }},
  {"data": {"name": "cN"}, "mark": {"type": "line", "strokeWidth": 3, "strokeDash": [15, 10], "interpolate": "monotone"},
   "encoding": {
    "x": {"field": "r", "type": "quantitative", "scale": {"domain": [0, 8], "nice": false}, "axis": {"orient": "top", "values": [0,1,2,3,4,5,6,7,8], "labels": false, "tickSize": -7, "title": null}},
    "y": {"field": "v", "type": "quantitative", "scale": {"domain": [0, 3], "nice": false}, "axis": {"orient": "right", "values": [0,0.5,1,1.5,2,2.5,3], "labelExpr": "datum.value % 1 == 0 ? format(datum.value, 'd') : ''", "tickSize": -7, "labelPadding": 13, "title": "cumulative integral", "titleFontSize": 23, "titleAngle": 270, "titleBaseline": "top", "titlePadding": 16}},
    "color": {"field": "s", "type": "nominal", "sort": null, "legend": null}
   }},
  {"data": {"name": "notes"}, "transform": [{"filter": "datum.p == 'c' && datum.k == 'tag'"}], "mark": {"type": "text", "fontSize": 25, "fontWeight": "bold", "align": "center", "baseline": "alphabetic", "color": "black"},
   "encoding": {"x": {"field": "x", "type": "quantitative", "scale": {"domain": [0, 8], "nice": false}, "axis": null}, "y": {"field": "y", "type": "quantitative", "scale": {"domain": [0, 30], "nice": false}, "axis": null}, "text": {"field": "t"}}},
  {"data": {"name": "notes"}, "transform": [{"filter": "datum.p == 'c' && datum.k == 'temp'"}], "mark": {"type": "text", "fontSize": 19, "fontWeight": "bold", "align": "center", "baseline": "alphabetic", "color": "black"},
   "encoding": {"x": {"field": "x", "type": "quantitative", "scale": {"domain": [0, 8], "nice": false}, "axis": null}, "y": {"field": "y", "type": "quantitative", "scale": {"domain": [0, 30], "nice": false}, "axis": null}, "text": {"field": "t"}}}
 ],
 "resolve": {"scale": {"x": "independent", "y": "independent"}}
},
{"width": 406, "height": 313,
 "layer": [
  {"data": {"name": "dG"}, "mark": {"type": "line", "strokeWidth": 2.5, "interpolate": "monotone"},
   "encoding": {
    "x": {"field": "r", "type": "quantitative", "scale": {"domain": [0, 8], "nice": false}, "axis": {"orient": "bottom", "values": [0,1,2,3,4,5,6,7,8], "labelExpr": "datum.value % 2 == 0 ? datum.label : ''", "tickSize": 11, "labelPadding": 13, "title": "Distance\u00a0\u00a0(Å)", "titleFontSize": 27, "titlePadding": 3}},
    "y": {"field": "v", "type": "quantitative", "scale": {"domain": [0, 12], "nice": false}, "axis": {"orient": "left", "values": [0,1,2,3,4,5,6,7,8,9,10,11,12], "labelExpr": "datum.value % 2 == 0 ? datum.label : ''", "tickSize": {"condition": {"test": "datum.value % 2 == 0", "value": 8}, "value": 5}, "labelPadding": 5, "title": "g OW-OH (r)", "titleFontSize": 24, "titlePadding": 10}},
    "color": {"field": "s", "type": "nominal", "sort": null, "scale": {"domain": ["0.0","0.0063","0.107","0.143","0.180"], "range": ["#000000","#ff0000","#00dd00","#0000ff","#00ffff"]}, "legend": null}
   }},
  {"data": {"name": "dN"}, "mark": {"type": "line", "strokeWidth": 2.5, "strokeDash": [13, 9], "interpolate": "monotone"},
   "encoding": {
    "x": {"field": "r", "type": "quantitative", "scale": {"domain": [0, 8], "nice": false}, "axis": {"orient": "top", "values": [0,1,2,3,4,5,6,7,8], "labels": false, "tickSize": -7, "title": null}},
    "y": {"field": "v", "type": "quantitative", "scale": {"domain": [0, 5], "nice": false}, "axis": {"orient": "right", "values": [0,0.5,1,1.5,2,2.5,3,3.5,4,4.5,5], "labelExpr": "datum.value % 1 == 0 ? format(datum.value, 'd') : ''", "tickSize": -7, "labelPadding": 13, "title": "cumulative integral", "titleFontSize": 23, "titleAngle": 270, "titleBaseline": "top", "titlePadding": 14}},
    "color": {"field": "s", "type": "nominal", "sort": null, "legend": null}
   }},
  {"data": {"name": "notes"}, "transform": [{"filter": "datum.p == 'd' && datum.k == 'tag'"}], "mark": {"type": "text", "fontSize": 25, "fontWeight": "bold", "align": "center", "baseline": "alphabetic", "color": "black"},
   "encoding": {"x": {"field": "x", "type": "quantitative", "scale": {"domain": [0, 8], "nice": false}, "axis": null}, "y": {"field": "y", "type": "quantitative", "scale": {"domain": [0, 12], "nice": false}, "axis": null}, "text": {"field": "t"}}},
  {"data": {"name": "notes"}, "transform": [{"filter": "datum.p == 'd' && datum.k == 'temp'"}], "mark": {"type": "text", "fontSize": 19, "fontWeight": "bold", "align": "center", "baseline": "alphabetic", "color": "black"},
   "encoding": {"x": {"field": "x", "type": "quantitative", "scale": {"domain": [0, 8], "nice": false}, "axis": null}, "y": {"field": "y", "type": "quantitative", "scale": {"domain": [0, 12], "nice": false}, "axis": null}, "text": {"field": "t"}}}
 ],
 "resolve": {"scale": {"x": "independent", "y": "independent"}}
}
], "spacing": 46, "resolve": {"scale": {"color": "independent"}}}
],
"spacing": 25,
"resolve": {"scale": {"color": "independent"}},
"config": {
 "font": "Liberation Sans",
 "view": {"stroke": null},
 "axis": {"grid": false, "domainColor": "black", "domainWidth": 1.6, "tickColor": "black", "tickWidth": 1.6, "labelFont": "Liberation Sans", "labelFontWeight": "bold", "labelFontSize": 19, "labelColor": "black", "titleFont": "Liberation Sans", "titleFontWeight": "bold", "titleColor": "black", "labelFlush": false, "labelOverlap": false},
 "text": {"font": "Liberation Sans", "fontWeight": "bold"}
}
}
